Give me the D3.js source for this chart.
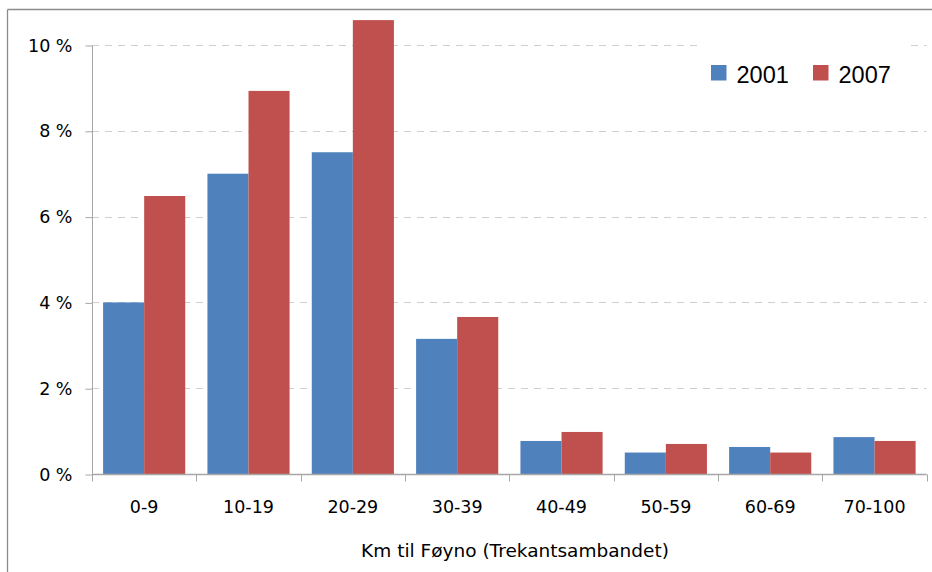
<!DOCTYPE html>
<html>
<head>
<meta charset="utf-8">
<script src="https://cdn.jsdelivr.net/npm/d3@7"></script>
<style>
  html, body { margin: 0; padding: 0; background: #fff; }
  svg { display: block; }
</style>
</head>
<body>
<svg id="chart" width="932" height="572"></svg>
<script>
// Distance bands (km to Føyno) and share of population per year, in percent
const categories = ["0-9", "10-19", "20-29", "30-39", "40-49", "50-59", "60-69", "70-100"];
const years = ["2001", "2007"];
const values2001 = [4.0, 7.0, 7.5, 3.15, 0.77, 0.5, 0.63, 0.86];
const values2007 = [6.48, 8.93, 10.58, 3.66, 0.98, 0.7, 0.5, 0.77];
const yTicks = [0, 2, 4, 6, 8, 10];
const xTitle = "Km til Føyno (Trekantsambandet)";

const seriesValues = { "2001": values2001, "2007": values2007 };
const colors = { "2001": "#4F81BD", "2007": "#C0504D" };

const svg = d3.select("#chart");
const W = 932, H = 572;
const plot = { left: 92, right: 926.7, top: 45, bottom: 474 };
const tickFont = "'DejaVu Sans', sans-serif";

// Chart frame (top and left edges visible)
svg.append("line").attr("x1", 7.5).attr("x2", W).attr("y1", 9.5).attr("y2", 9.5)
  .attr("stroke", "#8c8c8c").attr("stroke-width", 1.3);
svg.append("line").attr("x1", 7.5).attr("x2", 7.5).attr("y1", 9.5).attr("y2", H)
  .attr("stroke", "#8c8c8c").attr("stroke-width", 1.3);

const x = d3.scaleBand().domain(categories).range([plot.left, plot.right]).padding(0);
const xInner = d3.scaleBand().domain(years).range([0, x.bandwidth()])
  .paddingInner(0).paddingOuter(0.27);
const y = d3.scaleLinear().domain([0, 10]).range([plot.bottom, plot.top]);

// Dashed horizontal gridlines
svg.append("g").selectAll("line")
  .data(yTicks.filter(t => t > 0))
  .join("line")
  .attr("x1", plot.left).attr("x2", plot.right)
  .attr("y1", d => Math.round(y(d)) + 0.5).attr("y2", d => Math.round(y(d)) + 0.5)
  .attr("stroke", "#cfcfcf").attr("stroke-width", 1)
  .attr("stroke-dasharray", "7,6");

// Bars
const groups = svg.append("g").selectAll("g")
  .data(categories)
  .join("g")
  .attr("transform", d => `translate(${x(d)},0)`);

groups.selectAll("rect")
  .data((d, i) => years.map(yr => ({ year: yr, value: seriesValues[yr][i] })))
  .join("rect")
  .attr("x", d => xInner(d.year))
  .attr("width", xInner.bandwidth())
  .attr("y", d => y(d.value))
  .attr("height", d => y(0) - y(d.value))
  .attr("fill", d => colors[d.year]);

// Y axis
const yAxis = d3.axisLeft(y).tickValues(yTicks).tickSize(7).tickPadding(13)
  .tickFormat(d => d + " %");
const gy = svg.append("g").attr("transform", `translate(${plot.left + 0.5},0.5)`).call(yAxis);
gy.select(".domain").attr("stroke", "#a6a6a6").attr("d", `M0,${plot.bottom}V${plot.top}`);
gy.selectAll(".tick line").attr("stroke", "#a6a6a6");
gy.selectAll(".tick text").attr("font-family", tickFont).attr("font-size", 17.5)
  .attr("fill", "#000");

// X axis with tick marks at category boundaries
const gx = svg.append("g").attr("transform", `translate(0,${plot.bottom + 0.5})`);
gx.append("line").attr("x1", plot.left).attr("x2", plot.right)
  .attr("stroke", "#a6a6a6").attr("stroke-width", 1.5);
const boundaries = categories.map(c => x(c)).concat([plot.right]);
gx.selectAll(".bt").data(boundaries).join("line")
  .attr("class", "bt")
  .attr("x1", d => Math.round(d) + 0.5).attr("x2", d => Math.round(d) + 0.5)
  .attr("y1", 0).attr("y2", 7)
  .attr("stroke", "#a6a6a6");
gx.selectAll(".lbl").data(categories).join("text")
  .attr("class", "lbl")
  .attr("x", d => x(d) + x.bandwidth() / 2)
  .attr("y", 38.5)
  .attr("text-anchor", "middle")
  .attr("font-family", tickFont).attr("font-size", 17.5)
  .attr("fill", "#000")
  .text(d => d);

// Axis title
svg.append("text")
  .attr("x", 515).attr("y", 557)
  .attr("text-anchor", "middle")
  .attr("font-family", tickFont).attr("font-size", 18.5)
  .attr("fill", "#000")
  .text(xTitle);

// Legend
const legend = svg.append("g");
legend.append("rect").attr("x", 697).attr("y", 38).attr("width", 208).attr("height", 62)
  .attr("fill", "#fff");
const legendX = [711, 813];
years.forEach((yr, i) => {
  legend.append("rect").attr("x", legendX[i]).attr("y", 65).attr("width", 15.5).attr("height", 15.5)
    .attr("fill", colors[yr]);
  legend.append("text").attr("x", legendX[i] + 25.5).attr("y", 83.3)
    .attr("font-family", "'Liberation Sans', Arial, sans-serif").attr("font-size", 23.5)
    .attr("fill", "#000")
    .text(yr);
});
</script>
</body>
</html>
